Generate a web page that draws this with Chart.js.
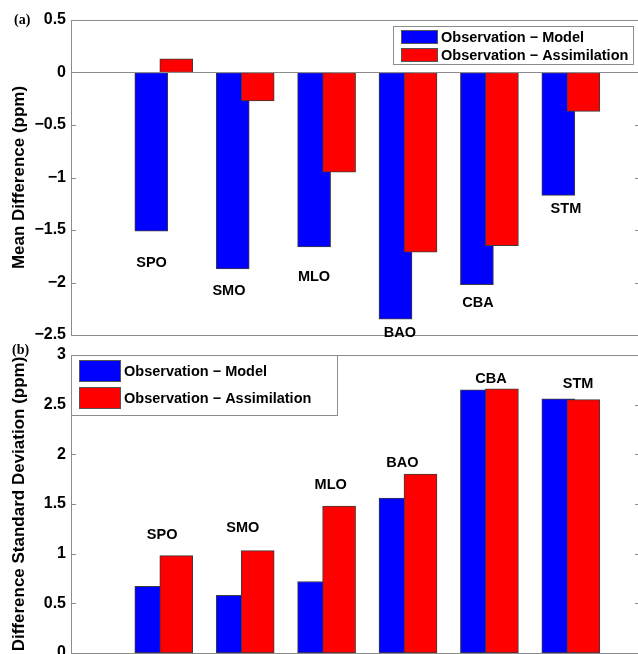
<!DOCTYPE html>
<html>
<head>
<meta charset="utf-8">
<script src="https://cdn.jsdelivr.net/npm/chart.js@4.4.1/dist/chart.umd.min.js"></script>
<style>
html,body{margin:0;padding:0;background:#fff;overflow:hidden;width:638px;height:654px;}
#wrap{position:relative;width:638px;height:654px;overflow:hidden;}
canvas{position:absolute;left:0;}
#ca{top:0;}
#cb{top:340px;}
</style>
</head>
<body>
<div id="wrap">
<canvas id="ca" width="642" height="350"></canvas>
<canvas id="cb" width="642" height="330"></canvas>
</div>
<script>
// ---- data ----
const categories = ['SPO', 'SMO', 'MLO', 'BAO', 'CBA', 'STM'];
const seriesNames = ['Observation \u2212 Model', 'Observation \u2212 Assimilation'];
const meanModel = [-1.51, -1.87, -1.66, -2.35, -2.02, -1.17];
const meanAssim = [0.13, -0.27, -0.95, -1.71, -1.65, -0.37];
const stdModel = [0.67, 0.58, 0.72, 1.56, 2.65, 2.56];
const stdAssim = [0.98, 1.03, 1.48, 1.80, 2.66, 2.55];
const meanTicks = [-2.5, -2, -1.5, -1, -0.5, 0, 0.5];
const stdTicks = [0, 0.5, 1, 1.5, 2, 2.5, 3];
// station label anchors (group offset, value)
const meanLabelDx = [-0.15, -0.2, -0.155, -0.1, -0.14, -0.06];
const meanLabelY = [-1.815, -2.08, -1.95, -2.48, -2.195, -1.30];
const stdLabelDx = [-0.02, -0.03, 0.05, -0.07, 0.02, 0.09];
const stdLabelY = [1.19, 1.255, 1.69, 1.91, 2.76, 2.71];

const BLUE = '#0000ff', RED = '#ff0000', EDGE = '#3c3c3c', AXIS = '#8c8c8c';
const SANS = '"Liberation Sans", Arial, Helvetica, sans-serif';
const HALF = 0.1535;

function fmt(v) { return v < 0 ? '\u2212' + Math.abs(v) : String(v); }

const framePlugin = {
  id: 'frame',
  afterDatasetsDraw(chart, args, opts) {
    const ctx = chart.ctx, a = chart.chartArea;
    const ys = chart.scales.y, xs = chart.scales.x;
    ctx.save();
    ctx.strokeStyle = AXIS;
    ctx.lineWidth = 1;
    ctx.beginPath();
    ctx.rect(Math.round(a.left) + 0.5, Math.round(a.top) + 0.5,
             Math.round(a.right - a.left), Math.round(a.bottom - a.top));
    ctx.stroke();
    // inward ticks on both sides
    ctx.beginPath();
    ys.ticks.forEach(t => {
      const y = Math.round(ys.getPixelForValue(t.value)) + 0.5;
      ctx.moveTo(a.left, y); ctx.lineTo(a.left + 5, y);
      ctx.moveTo(a.right, y); ctx.lineTo(a.right - 5, y);
    });
    ctx.stroke();
    if (opts.zeroLine) {
      const y0 = Math.round(ys.getPixelForValue(0)) + 0.5;
      ctx.beginPath(); ctx.moveTo(a.left, y0); ctx.lineTo(a.right, y0); ctx.stroke();
    }
    // station labels
    ctx.fillStyle = '#000';
    ctx.font = 'bold 14.5px ' + SANS;
    ctx.textAlign = 'center';
    ctx.textBaseline = 'middle';
    categories.forEach((c, i) => {
      ctx.fillText(c, xs.getPixelForValue(i + 1 + opts.labelDx[i]), ys.getPixelForValue(opts.labelY[i]));
    });
    ctx.restore();
  },
  afterDraw(chart, args, opts) {
    const ctx = chart.ctx, L = opts.legend;
    ctx.save();
    ctx.fillStyle = '#fff';
    ctx.strokeStyle = AXIS;
    ctx.lineWidth = 1;
    ctx.fillRect(L.x, L.y, L.w, L.h);
    ctx.strokeRect(L.x + 0.5, L.y + 0.5, L.w, L.h);
    ctx.font = 'bold 14.5px ' + SANS;
    ctx.textAlign = 'left';
    ctx.textBaseline = 'middle';
    const order = [1, 0]; // model first (dataset 1), assimilation second (dataset 0)
    order.forEach((di, k) => {
      const ds = chart.data.datasets[di];
      const sy = L.y + L.sy[k];
      ctx.fillStyle = ds.backgroundColor;
      ctx.fillRect(L.sx, sy, L.sw, L.sh);
      ctx.strokeStyle = '#555';
      ctx.strokeRect(L.sx + 0.5, sy + 0.5, L.sw, L.sh);
      ctx.fillStyle = '#000';
      ctx.fillText(ds.label, L.tx, sy + L.sh / 2 + 1);
    });
    ctx.fillStyle = '#000';
    ctx.font = 'bold 14px "Liberation Serif", "Times New Roman", serif';
    ctx.textAlign = 'left';
    ctx.textBaseline = 'alphabetic';
    ctx.fillText(opts.tag, opts.tagX, opts.tagY);
    ctx.restore();
  }
};

function makeChart(id, model, assim, ticks, title, pad, frameOpts) {
  return new Chart(document.getElementById(id), {
    type: 'bar',
    data: {
      datasets: [
        { label: seriesNames[1], data: assim.map((v, i) => ({ x: i + 1 + HALF, y: v })),
          backgroundColor: RED, borderColor: EDGE, borderWidth: 1, borderSkipped: false, grouped: false },
        { label: seriesNames[0], data: model.map((v, i) => ({ x: i + 1 - HALF, y: v })),
          backgroundColor: BLUE, borderColor: EDGE, borderWidth: 1, borderSkipped: false, grouped: false }
      ]
    },
    options: {
      responsive: false,
      animation: false,
      devicePixelRatio: 1,
      barThickness: 33,
      layout: { padding: pad },
      plugins: { legend: { display: false }, tooltip: { enabled: false }, frame: frameOpts },
      scales: {
        x: { type: 'linear', min: -0.14, max: 6.85, offset: false, display: false },
        y: {
          min: ticks[0], max: ticks[ticks.length - 1],
          afterBuildTicks: s => { s.ticks = ticks.map(v => ({ value: v })); },
          afterFit: s => { s.width = 71; },
          grid: { display: false, drawTicks: false },
          border: { display: false },
          ticks: { padding: 5, color: '#000', font: { family: SANS, size: 16, weight: 'bold' },
                   callback: v => fmt(v) },
          title: { display: true, text: title, color: '#000', padding: { top: 9, bottom: 0 },
                   font: { family: SANS, size: 17, weight: 'bold' } }
        }
      }
    },
    plugins: [framePlugin]
  });
}

makeChart('ca', meanModel, meanAssim, meanTicks, 'Mean Difference (ppm)',
  { top: 20, bottom: 15, left: 0, right: 2 },
  { zeroLine: true, labelDx: meanLabelDx, labelY: meanLabelY,
    legend: { x: 393, y: 26, w: 240, h: 38, sx: 401, sw: 36, sh: 13, sy: [4, 22], tx: 441 },
    tag: '(a)', tagX: 14, tagY: 24 });

makeChart('cb', stdModel, stdAssim, stdTicks, 'Difference Standard Deviation (ppm)',
  { top: 15, bottom: 17, left: 0, right: 2 },
  { zeroLine: false, labelDx: stdLabelDx, labelY: stdLabelY,
    legend: { x: 71, y: 15, w: 266, h: 60, sx: 79, sw: 41, sh: 21, sy: [5, 32], tx: 124 },
    tag: '(b)', tagX: 12, tagY: 14 });
</script>
</body>
</html>
